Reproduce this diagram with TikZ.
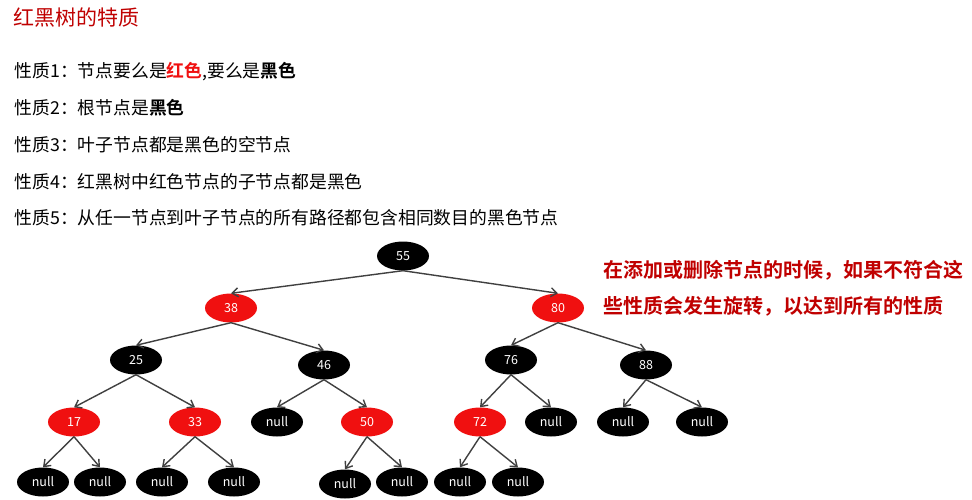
\documentclass[tikz,border=0pt]{standalone}
\usepackage{fontspec}
\setmainfont{Noto Sans CJK SC}[BoldFont={Noto Sans CJK SC Bold}]
\usetikzlibrary{shapes.geometric,arrows.meta}
\definecolor{tred}{HTML}{C00000}
\definecolor{nred}{HTML}{F01010}
\tikzset{
 rb/.style={ellipse,minimum width=52pt,minimum height=29pt,inner sep=0pt,text=white,font=\fontsize{12.5}{12.5}\selectfont},
 bk/.style={rb,fill=black},
 rd/.style={rb,fill=nred},
 edge/.style={draw=black!75,line width=1.4pt,-{Straight Barb[length=6pt,width=9pt]}},
 prop/.style={anchor=west,font=\fontsize{17.8}{18}\selectfont}
}
\begin{document}
\begin{tikzpicture}[x=1pt,y=-1pt]
\useasboundingbox[fill=white] (0,0) rectangle (972,500);
\node[anchor=west,text=tred,font=\fontsize{21}{21}\selectfont] (title) at (10,18) {红黑树的特质};
\node[prop] (p1) at (11,72) {性质1：节点要么是\textbf{\textcolor{nred}{红色}},要么是\textbf{黑色}};
\node[prop] (p2) at (11,108) {性质2：根节点是\textbf{黑色}};
\node[prop] (p3) at (11,145) {性质3：叶子节点都是黑色的空节点};
\node[prop] (p4) at (11,182) {性质4：红黑树中红色节点的子节点都是黑色};
\node[prop] (p5) at (11,218) {性质5：从任一节点到叶子节点的所有路径都包含相同数目的黑色节点};
\node[anchor=west,text=tred,font=\bfseries\fontsize{20}{20}\selectfont] (n1) at (600,270) {在添加或删除节点的时候，如果不符合这};
\node[anchor=west,text=tred,font=\bfseries\fontsize{20}{20}\selectfont] (n2) at (600,306) {些性质会发生旋转，以达到所有的性质};
\node[bk] (a55) at (403,256) {55};
\node[rd] (a38) at (231,308) {38};
\node[rd] (a80) at (558,308) {80};
\node[bk] (a25) at (136,360) {25};
\node[bk] (a46) at (324,365) {46};
\node[bk] (a76) at (511,360) {76};
\node[bk] (a88) at (646,365) {88};
\node[rd] (a17) at (74,422) {17};
\node[rd] (a33) at (195,422) {33};
\node[bk] (n46) at (277,422) {null};
\node[rd] (a50) at (367,422) {50};
\node[rd] (a72) at (480,422) {72};
\node[bk] (n76) at (551,422) {null};
\node[bk] (n88a) at (623,422) {null};
\node[bk] (n88b) at (702,422) {null};
\node[bk] (l1) at (43,482) {null};
\node[bk] (l2) at (100,482) {null};
\node[bk] (l3) at (162,482) {null};
\node[bk] (l4) at (234,482) {null};
\node[bk] (l5) at (345,484) {null};
\node[bk] (l6) at (402,482) {null};
\node[bk] (l7) at (460,482) {null};
\node[bk] (l8) at (518,482) {null};
\foreach \p/\c in {a55/a38,a55/a80,a38/a25,a38/a46,a80/a76,a80/a88,a25/a17,a25/a33,a46/n46,a46/a50,a76/a72,a76/n76,a88/n88a,a88/n88b,a17/l1,a17/l2,a33/l3,a33/l4,a50/l5,a50/l6,a72/l7,a72/l8}
  \draw[edge] (\p.south) -- (\c.north);
\end{tikzpicture}
\end{document}
